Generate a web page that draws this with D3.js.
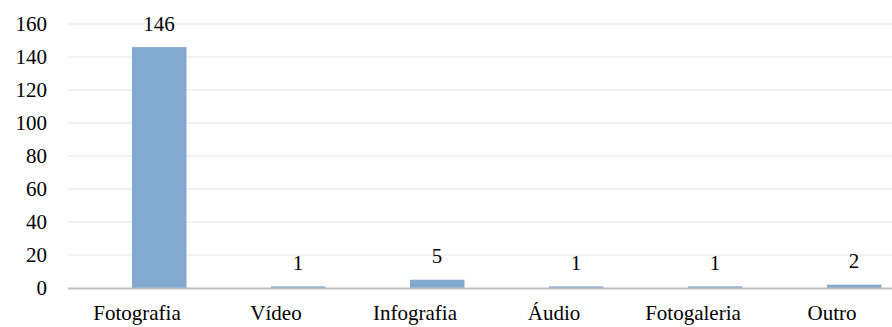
<!DOCTYPE html>
<html><head><meta charset="utf-8">
<script src="https://cdn.jsdelivr.net/npm/d3@7"></script>
<style>body{margin:0;background:#fff}svg{display:block}</style>
</head><body><svg id="c" width="892" height="327"></svg>
<script>
const categories = ["Fotografia","Vídeo","Infografia","Áudio","Fotogaleria","Outro"];
const values = [146,1,5,1,1,2];
const yTicks = [0,20,40,60,80,100,120,140,160];

const svg = d3.select("#c");
const x = d3.scaleBand().domain(categories).range([67.5, 901.5]);
const y = d3.scaleLinear().domain([0,160]).range([288,24]);
const plotLeft = 68, plotRight = 892;
const fs = 21, ff = '"Liberation Serif"';

yTicks.filter(d=>d>0).forEach(d=>{
  svg.append("line").attr("x1",plotLeft).attr("x2",plotRight)
    .attr("y1",y(d)).attr("y2",y(d))
    .attr("stroke","#e6e6e6").attr("stroke-width",1.2);
});

const bw = 54.5;
const bx = d => x(d) + x.bandwidth()/2 - 5;
categories.forEach((c,i)=>{
  svg.append("rect").attr("x",bx(c)).attr("width",bw)
    .attr("y",y(values[i])).attr("height",y(0)-y(values[i]))
    .attr("fill","#84a9d0");
});

svg.append("line").attr("x1",plotLeft).attr("x2",plotRight)
  .attr("y1",y(0)+0.5).attr("y2",y(0)+0.5)
  .attr("stroke","#bfbfbf").attr("stroke-width",2.2);

yTicks.forEach(d=>{
  svg.append("text").attr("x",47).attr("y",Math.round(y(d)+7))
    .attr("text-anchor","end").attr("font-size",fs)
    .style("font-family",ff).text(d);
});

categories.forEach((c,i)=>{
  svg.append("text").attr("x",Math.round(bx(c)+bw/2)).attr("y",Math.round(y(values[i])-16.5))
    .attr("text-anchor","middle").attr("font-size",fs)
    .style("font-family",ff).text(values[i]);
  svg.append("text").attr("x",Math.round(x(c)+x.bandwidth()/2)).attr("y",320)
    .attr("text-anchor","middle").attr("font-size",fs)
    .style("font-family",ff).text(c);
});
</script></body></html>
